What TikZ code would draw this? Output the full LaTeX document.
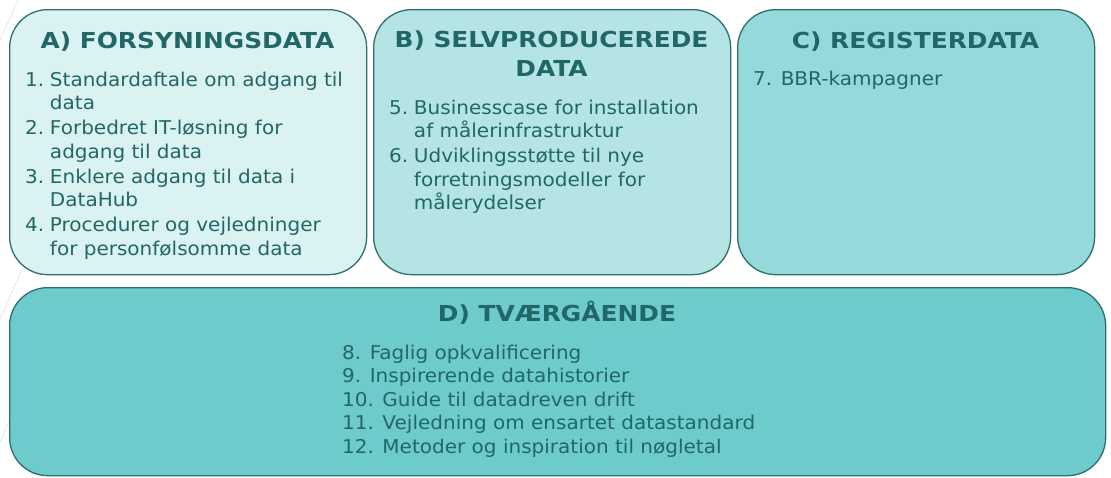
\documentclass[tikz,border=0pt]{standalone}
\usepackage{fontspec}
\setmainfont{DejaVu Sans}[FakeStretch=1.053]
\newfontfamily\ttlfont{DejaVu Sans}[FakeStretch=1.13]
\definecolor{cA}{HTML}{DBF2F2}
\definecolor{cB}{HTML}{B5E4E4}
\definecolor{cC}{HTML}{94DADA}
\definecolor{cD}{HTML}{6DCBCB}
\definecolor{edge}{HTML}{2E6E6E}
\definecolor{ink}{HTML}{226767}
\definecolor{faint}{HTML}{E6E6E6}
\tikzset{
  panel/.style={draw=edge, line width=1.3pt, rounded corners=38pt, anchor=north west, inner sep=0pt},
  ttl/.style={text=ink, font=\ttlfont\fontsize{22}{29}\selectfont\bfseries, anchor=base, align=center, inner sep=0pt},
  items/.style={text=ink, font=\fontsize{19}{23.5}\selectfont, anchor=base west, inner sep=0pt},
}
\newcommand{\itgap}{\\[1.5pt]}
\begin{document}
\begin{tikzpicture}[x=1pt,y=-1pt]
\useasboundingbox (0,0) rectangle (1111,477);
% faint background lines
\draw[faint, line width=0.8pt] (0,40) -- (18,0);
\draw[faint, line width=0.8pt] (0,319) -- (40,229);
\draw[faint, line width=0.8pt] (0,442) -- (22,392);
% panels
\node[panel, fill=cA, minimum width=357pt, minimum height=265pt] (A) at (9,9) {};
\node[panel, fill=cB, minimum width=357pt, minimum height=265pt] (B) at (373,9) {};
\node[panel, fill=cC, minimum width=357pt, minimum height=265pt] (C) at (737,9) {};
\node[panel, fill=cD, minimum width=1096pt, minimum height=188pt] (D) at (9,287) {};
% titles
\node[ttl] (tA) at (187.5,48) {A) FORSYNINGSDATA};
\node[ttl, anchor=north] (tB) at (551.5,31) {B) SELVPRODUCEREDE\\DATA};
\node[ttl] (tC) at (915.5,48) {C) REGISTERDATA};
\node[ttl] (tD) at (557,321) {D) TVÆRGÅENDE};
% items
\node[items] (iA) at (25,86) {\begin{tabular}[t]{@{}l@{\hspace{0.3em}}l@{}}
1. & Standardaftale om adgang til\\ & data\itgap
2. & Forbedret IT-løsning for\\ & adgang til data\itgap
3. & Enklere adgang til data i\\ & DataHub\itgap
4. & Procedurer og vejledninger\\ & for personfølsomme data
\end{tabular}};
\node[items] (iB) at (389,114) {\begin{tabular}[t]{@{}l@{\hspace{0.3em}}l@{}}
5. & Businesscase for installation\\ & af målerinfrastruktur\itgap
6. & Udviklingsstøtte til nye\\ & forretningsmodeller for\\ & målerydelser
\end{tabular}};
\node[items] (iC) at (753,85) {7. BBR-kampagner};
\node[items] (iD) at (342,359) {\begin{tabular}[t]{@{}l@{}}
8. Faglig opkvalificering\\
9. Inspirerende datahistorier\\
10. Guide til datadreven drift\\
11. Vejledning om ensartet datastandard\\
12. Metoder og inspiration til nøgletal
\end{tabular}};
\end{tikzpicture}
\end{document}
